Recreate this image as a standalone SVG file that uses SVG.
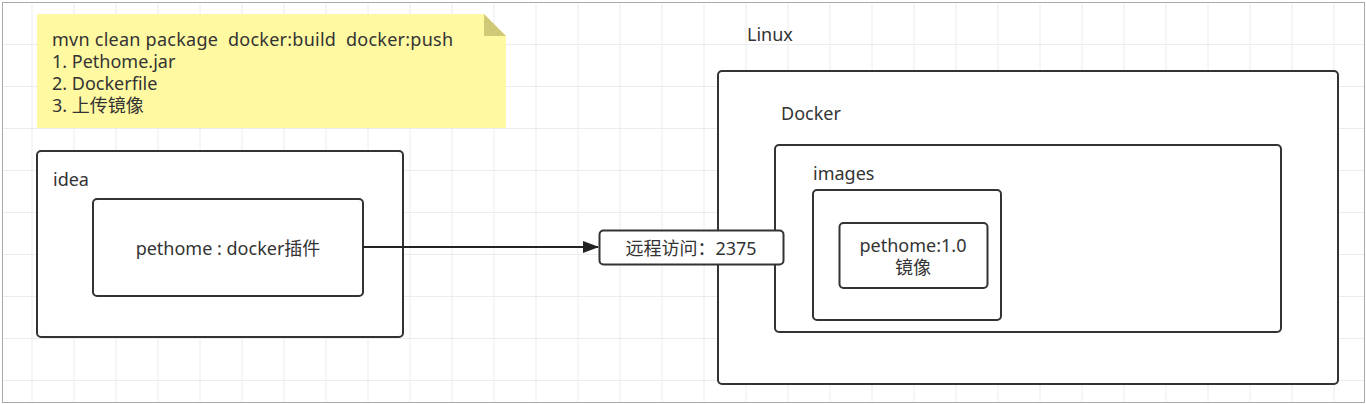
<svg xmlns="http://www.w3.org/2000/svg" width="1366" height="404" viewBox="0 0 1366 404">
<style>
.grid line{stroke:#ececec;stroke-width:1}
.box{fill:#ffffff;stroke:#333333;stroke-width:2}
.t{font-family:"Noto Sans","Noto Sans CJK SC",sans-serif;font-size:18px;fill:#333333;white-space:pre}
.c{text-anchor:middle;dominant-baseline:central}
.conn{stroke:#222222;stroke-width:2;fill:none}
</style>
<defs>
<marker id="arrow" markerWidth="16" markerHeight="12" refX="15" refY="6" orient="auto" markerUnits="userSpaceOnUse" viewBox="0 0 16 12">
<path d="M0,0 L16,6 L0,12 Z" fill="#222222"/>
</marker>
</defs>
<rect x="0" y="0" width="1366" height="404" fill="#ffffff"/>
<g class="grid">
<line x1="32" y1="3" x2="32" y2="402"/><line x1="74" y1="3" x2="74" y2="402"/><line x1="116" y1="3" x2="116" y2="402"/><line x1="158" y1="3" x2="158" y2="402"/><line x1="200" y1="3" x2="200" y2="402"/><line x1="242" y1="3" x2="242" y2="402"/><line x1="284" y1="3" x2="284" y2="402"/><line x1="326" y1="3" x2="326" y2="402"/><line x1="368" y1="3" x2="368" y2="402"/><line x1="410" y1="3" x2="410" y2="402"/><line x1="452" y1="3" x2="452" y2="402"/><line x1="494" y1="3" x2="494" y2="402"/><line x1="536" y1="3" x2="536" y2="402"/><line x1="578" y1="3" x2="578" y2="402"/><line x1="620" y1="3" x2="620" y2="402"/><line x1="662" y1="3" x2="662" y2="402"/><line x1="704" y1="3" x2="704" y2="402"/><line x1="746" y1="3" x2="746" y2="402"/><line x1="788" y1="3" x2="788" y2="402"/><line x1="830" y1="3" x2="830" y2="402"/><line x1="872" y1="3" x2="872" y2="402"/><line x1="914" y1="3" x2="914" y2="402"/><line x1="956" y1="3" x2="956" y2="402"/><line x1="998" y1="3" x2="998" y2="402"/><line x1="1040" y1="3" x2="1040" y2="402"/><line x1="1082" y1="3" x2="1082" y2="402"/><line x1="1124" y1="3" x2="1124" y2="402"/><line x1="1166" y1="3" x2="1166" y2="402"/><line x1="1208" y1="3" x2="1208" y2="402"/><line x1="1250" y1="3" x2="1250" y2="402"/><line x1="1292" y1="3" x2="1292" y2="402"/><line x1="1334" y1="3" x2="1334" y2="402"/>
<line x1="3" y1="44.5" x2="1365" y2="44.5"/><line x1="3" y1="86.5" x2="1365" y2="86.5"/><line x1="3" y1="128.5" x2="1365" y2="128.5"/><line x1="3" y1="170.5" x2="1365" y2="170.5"/><line x1="3" y1="212.5" x2="1365" y2="212.5"/><line x1="3" y1="254.5" x2="1365" y2="254.5"/><line x1="3" y1="296.5" x2="1365" y2="296.5"/><line x1="3" y1="338.5" x2="1365" y2="338.5"/><line x1="3" y1="380.5" x2="1365" y2="380.5"/>
</g>
<rect x="2.5" y="2.5" width="1362" height="400" fill="none" stroke="#aaaaaa" stroke-width="1"/>

<g id="note">
<path d="M37,14 L484,14 L506,36 L506,128 L37,128 Z" fill="#fff9a2"/>
<path d="M484,14 L484,36 L506,36 Z" fill="#d0ca78"/>
<text class="t" x="52" y="46" xml:space="preserve" textLength="401" lengthAdjust="spacing">mvn clean package  docker:build  docker:push</text>
<text class="t" x="52" y="68">1. Pethome.jar</text>
<text class="t" x="52" y="90">2. Dockerfile</text>
<text class="t" x="52" y="112">3. 上传镜像</text>
</g>

<g id="idea">
<rect class="box" x="37" y="151" width="366" height="186" rx="4"/>
<text class="t" x="53" y="186">idea</text>
</g>
<g id="plugin">
<rect class="box" x="93" y="199" width="270" height="97" rx="4"/>
<text class="t c" x="228" y="248">pethome : docker插件</text>
</g>

<g id="linux">
<text class="t" x="747" y="41">Linux</text>
<rect class="box" x="718" y="71" width="620" height="313" rx="4"/>
</g>
<g id="docker">
<text class="t" x="781" y="120">Docker</text>
<rect class="box" x="775" y="145" width="506" height="187" rx="4"/>
</g>
<g id="images">
<text class="t" x="813" y="180">images</text>
<rect class="box" x="813" y="190" width="188" height="130" rx="4"/>
</g>
<g id="image">
<rect class="box" x="839.5" y="223" width="148" height="65" rx="4"/>
<text class="t c" x="913" y="245">pethome:1.0</text>
<text class="t c" x="913" y="267">镜像</text>
</g>

<g id="connectors">
<line class="conn" x1="363" y1="247" x2="598" y2="247" marker-end="url(#arrow)"/>
</g>

<g id="remote">
<rect class="box" x="599.5" y="230.5" width="184" height="34" rx="4"/>
<text class="t c" x="691" y="248">远程访问：2375</text>
</g>
</svg>
